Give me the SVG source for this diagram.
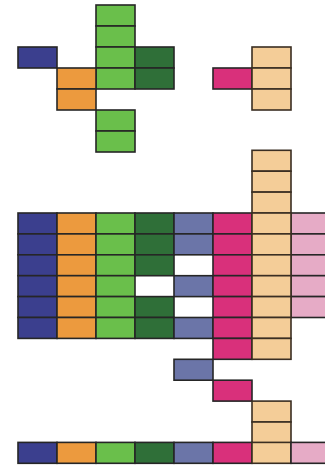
<svg xmlns="http://www.w3.org/2000/svg" width="325" height="465" viewBox="0 0 325 465">
<style>
rect{stroke:#262626;stroke-width:1.6}
.b{fill:#3b3f8e}.o{fill:#ec9a3e}.g{fill:#6abf4b}.d{fill:#2f6f38}.s{fill:#6b75a8}.p{fill:#d9307b}.t{fill:#f4cd98;stroke:#3a2e22}.l{fill:#e6abc6}
</style>
<rect x="0" y="0" width="325" height="465" fill="#fff" style="stroke:none"/>
<g id="top">
<g id="top-green">
<rect class="g" x="96" y="5" width="39" height="21"/>
<rect class="g" x="96" y="26" width="39" height="21"/>
<rect class="g" x="96" y="47" width="39" height="21"/>
<rect class="g" x="96" y="68" width="39" height="21"/>
<rect class="g" x="96" y="110" width="39" height="21"/>
<rect class="g" x="96" y="131" width="39" height="21"/>
</g>
<g id="top-darkgreen">
<rect class="d" x="135" y="47" width="39" height="21"/>
<rect class="d" x="135" y="68" width="39" height="21"/>
</g>
<g id="top-blue"><rect class="b" x="18" y="47" width="39" height="21"/></g>
<g id="top-orange">
<rect class="o" x="57" y="68" width="39" height="21"/>
<rect class="o" x="57" y="89" width="39" height="21"/>
</g>
<g id="top-pink"><rect class="p" x="213" y="68" width="39" height="21"/></g>
<g id="top-tan">
<rect class="t" x="252" y="47" width="39" height="21"/>
<rect class="t" x="252" y="68" width="39" height="21"/>
<rect class="t" x="252" y="89" width="39" height="21"/>
</g>
</g>
<g id="grid">
<g id="col-blue">
<rect class="b" x="18" y="213" width="39" height="20.9"/>
<rect class="b" x="18" y="233.9" width="39" height="20.9"/>
<rect class="b" x="18" y="254.8" width="39" height="20.9"/>
<rect class="b" x="18" y="275.7" width="39" height="20.9"/>
<rect class="b" x="18" y="296.6" width="39" height="20.9"/>
<rect class="b" x="18" y="317.5" width="39" height="20.9"/>
</g>
<g id="col-orange">
<rect class="o" x="57" y="213" width="39" height="20.9"/>
<rect class="o" x="57" y="233.9" width="39" height="20.9"/>
<rect class="o" x="57" y="254.8" width="39" height="20.9"/>
<rect class="o" x="57" y="275.7" width="39" height="20.9"/>
<rect class="o" x="57" y="296.6" width="39" height="20.9"/>
<rect class="o" x="57" y="317.5" width="39" height="20.9"/>
</g>
<g id="col-green">
<rect class="g" x="96" y="213" width="39" height="20.9"/>
<rect class="g" x="96" y="233.9" width="39" height="20.9"/>
<rect class="g" x="96" y="254.8" width="39" height="20.9"/>
<rect class="g" x="96" y="275.7" width="39" height="20.9"/>
<rect class="g" x="96" y="296.6" width="39" height="20.9"/>
<rect class="g" x="96" y="317.5" width="39" height="20.9"/>
</g>
<g id="col-darkgreen">
<rect class="d" x="135" y="213" width="39" height="20.9"/>
<rect class="d" x="135" y="233.9" width="39" height="20.9"/>
<rect class="d" x="135" y="254.8" width="39" height="20.9"/>
<rect class="d" x="135" y="296.6" width="39" height="20.9"/>
<rect class="d" x="135" y="317.5" width="39" height="20.9"/>
</g>
<g id="col-slate">
<rect class="s" x="174" y="213" width="39" height="20.9"/>
<rect class="s" x="174" y="233.9" width="39" height="20.9"/>
<rect class="s" x="174" y="275.7" width="39" height="20.9"/>
<rect class="s" x="174" y="317.5" width="39" height="20.9"/>
<rect class="s" x="174" y="359.3" width="39" height="20.9"/>
</g>
<g id="col-pink">
<rect class="p" x="213" y="213" width="39" height="20.9"/>
<rect class="p" x="213" y="233.9" width="39" height="20.9"/>
<rect class="p" x="213" y="254.8" width="39" height="20.9"/>
<rect class="p" x="213" y="275.7" width="39" height="20.9"/>
<rect class="p" x="213" y="296.6" width="39" height="20.9"/>
<rect class="p" x="213" y="317.5" width="39" height="20.9"/>
<rect class="p" x="213" y="338.4" width="39" height="20.9"/>
<rect class="p" x="213" y="380.2" width="39" height="20.9"/>
</g>
<g id="col-lightpink">
<rect class="l" x="291" y="213" width="39" height="20.9"/>
<rect class="l" x="291" y="233.9" width="39" height="20.9"/>
<rect class="l" x="291" y="254.8" width="39" height="20.9"/>
<rect class="l" x="291" y="275.7" width="39" height="20.9"/>
<rect class="l" x="291" y="296.6" width="39" height="20.9"/>
</g>
<g id="col-tan">
<rect class="t" x="252" y="150.3" width="39" height="20.9"/>
<rect class="t" x="252" y="171.2" width="39" height="20.9"/>
<rect class="t" x="252" y="192.1" width="39" height="20.9"/>
<rect class="t" x="252" y="213" width="39" height="20.9"/>
<rect class="t" x="252" y="233.9" width="39" height="20.9"/>
<rect class="t" x="252" y="254.8" width="39" height="20.9"/>
<rect class="t" x="252" y="275.7" width="39" height="20.9"/>
<rect class="t" x="252" y="296.6" width="39" height="20.9"/>
<rect class="t" x="252" y="317.5" width="39" height="20.9"/>
<rect class="t" x="252" y="338.4" width="39" height="20.9"/>
<rect class="t" x="252" y="401.1" width="39" height="20.9"/>
<rect class="t" x="252" y="422" width="39" height="20.9"/>
</g>
</g>
<g id="bottom-row">
<rect class="b" x="18" y="442.4" width="39" height="20.9"/>
<rect class="o" x="57" y="442.4" width="39" height="20.9"/>
<rect class="g" x="96" y="442.4" width="39" height="20.9"/>
<rect class="d" x="135" y="442.4" width="39" height="20.9"/>
<rect class="s" x="174" y="442.4" width="39" height="20.9"/>
<rect class="p" x="213" y="442.4" width="39" height="20.9"/>
<rect class="t" x="252" y="442.4" width="39" height="20.9"/>
<rect class="l" x="291" y="442.4" width="39" height="20.9"/>
</g>
</svg>
